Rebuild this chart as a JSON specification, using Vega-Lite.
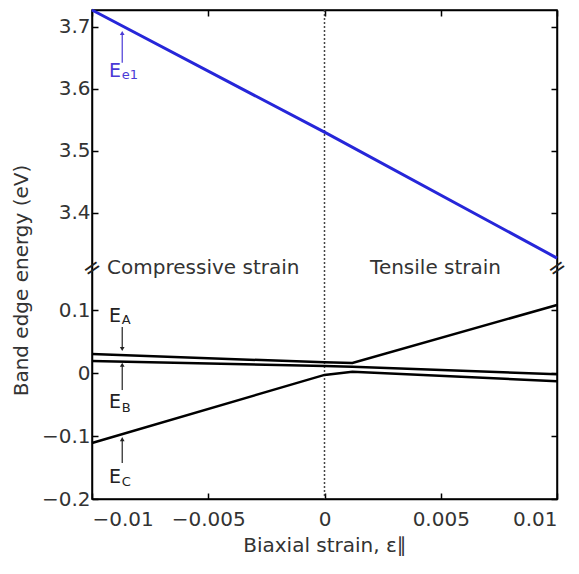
{
  "$schema": "https://vega.github.io/schema/vega-lite/v6.json",
  "autosize": "none",
  "width": 465,
  "height": 489,
  "padding": {"left": 92, "top": 10, "right": 22, "bottom": 75},
  "background": "white",
  "config": {
    "font": "DejaVu Sans",
    "view": {"stroke": "black", "strokeWidth": 1.5},
    "axis": {
      "grid": false,
      "domainColor": "black",
      "domainWidth": 1.5,
      "tickColor": "black",
      "tickWidth": 1.5,
      "tickSize": -6,
      "labelFont": "DejaVu Sans",
      "labelFontSize": 20,
      "labelColor": "#333333",
      "titleFont": "DejaVu Sans",
      "titleFontSize": 20,
      "titleFontWeight": "normal",
      "titleColor": "#333333"
    }
  },
  "datasets": {
    "bands": [
      {"band": "A", "strain": -0.01, "energy": 0.030},
      {"band": "A", "strain": 0.0, "energy": 0.017},
      {"band": "A", "strain": 0.0012, "energy": 0.016},
      {"band": "A", "strain": 0.01, "energy": 0.108},
      {"band": "B", "strain": -0.01, "energy": 0.019},
      {"band": "B", "strain": 0.0, "energy": 0.011},
      {"band": "B", "strain": 0.0012, "energy": 0.010},
      {"band": "B", "strain": 0.01, "energy": -0.002},
      {"band": "C", "strain": -0.01, "energy": -0.111},
      {"band": "C", "strain": 0.0, "energy": -0.003},
      {"band": "C", "strain": 0.0012, "energy": 0.002},
      {"band": "C", "strain": 0.01, "energy": -0.013}
    ],
    "blue": [
      {"band": "e1", "strain": -0.01, "energy": 3.727},
      {"band": "e1", "strain": 0.0, "energy": 3.53},
      {"band": "e1", "strain": 0.01, "energy": 3.327}
    ],
    "letters": [
      {"band": "e1", "strain": -0.00927, "energy": 3.628, "text": "E"},
      {"band": "A", "strain": -0.00927, "energy": 0.090, "text": "E"},
      {"band": "B", "strain": -0.00927, "energy": -0.046, "text": "E"},
      {"band": "C", "strain": -0.00927, "energy": -0.165, "text": "E"}
    ],
    "subs": [
      {"band": "e1", "strain": -0.00872, "energy": 3.622, "text": "e1"},
      {"band": "A", "strain": -0.00872, "energy": 0.084, "text": "A"},
      {"band": "B", "strain": -0.00872, "energy": -0.056, "text": "B"},
      {"band": "C", "strain": -0.00872, "energy": -0.173, "text": "C"}
    ],
    "arrows": [
      {"band": "e1", "strain": -0.0087, "energy": 3.642, "energy2": 3.690, "dir": "up"},
      {"band": "A", "strain": -0.0087, "energy": 0.073, "energy2": 0.038, "dir": "down"},
      {"band": "B", "strain": -0.0087, "energy": -0.027, "energy2": 0.013, "dir": "up"},
      {"band": "C", "strain": -0.0087, "energy": -0.143, "energy2": -0.105, "dir": "up"}
    ],
    "regions": [
      {"strain": -0.00935, "energy": 1, "text": "Compressive strain"},
      {"strain": 0.00196, "energy": 1, "text": "Tensile strain"}
    ],
    "breaks": [
      {"strain": -0.01, "energy": 1},
      {"strain": 0.01, "energy": 1}
    ],
    "zero": [{"strain": 0}]
  },
  "layer": [
    {
      "data": {"name": "zero"},
      "mark": {"type": "rule", "color": "#444444", "strokeWidth": 1.5, "strokeDash": [2, 2]},
      "encoding": {
        "x": {"field": "strain", "type": "quantitative", "scale": {"domain": [-0.01, 0.01], "nice": false, "zero": false}, "axis": null}
      }
    },
    {
      "data": {"name": "bands"},
      "mark": {"type": "line", "color": "black", "strokeWidth": 2.5},
      "encoding": {
        "x": {"field": "strain", "type": "quantitative", "scale": {"domain": [-0.01, 0.01], "nice": false, "zero": false},
          "axis": {"orient": "bottom", "values": [-0.01, -0.005, 0, 0.005, 0.01], "format": "~g", "labelPadding": 16, "title": "Biaxial strain, ε∥", "titlePadding": 6}},
        "y": {"field": "energy", "type": "quantitative", "scale": {"type": "linear", "domain": [-0.2, 0.1667, 3.311, 3.727], "range": [489, 258, 258, 0], "nice": false, "zero": false},
          "axis": {"orient": "left", "values": [-0.2, -0.1, 0, 0.1, 3.4, 3.5, 3.6, 3.7], "format": "~g", "labelPadding": 8, "title": "Band edge energy (eV)", "titlePadding": 10, "titleY": 270}},
        "detail": {"field": "band"}
      }
    },
    {
      "data": {"name": "blue"},
      "mark": {"type": "line", "color": "#2626d9", "strokeWidth": 3},
      "encoding": {
        "x": {"field": "strain", "type": "quantitative", "scale": {"domain": [-0.01, 0.01], "nice": false, "zero": false},
          "axis": {"orient": "top", "values": [-0.01, -0.005, 0, 0.005, 0.01], "labels": false, "title": null}},
        "y": {"field": "energy", "type": "quantitative", "scale": {"type": "linear", "domain": [-0.2, 0.1667, 3.311, 3.727], "range": [489, 258, 258, 0], "nice": false, "zero": false},
          "axis": {"orient": "right", "values": [-0.2, -0.1, 0, 0.1, 3.4, 3.5, 3.6, 3.7], "labels": false, "title": null}}
      }
    },
    {
      "data": {"name": "arrows"},
      "mark": {"type": "rule", "strokeWidth": 1.2},
      "encoding": {
        "x": {"field": "strain", "type": "quantitative", "scale": {"domain": [-0.01, 0.01], "nice": false, "zero": false}, "axis": null},
        "y": {"field": "energy", "type": "quantitative", "scale": {"type": "linear", "domain": [-0.2, 0.1667, 3.311, 3.727], "range": [489, 258, 258, 0], "nice": false, "zero": false}, "axis": null},
        "y2": {"field": "energy2"},
        "color": {"field": "band", "type": "nominal", "scale": {"domain": ["e1", "A", "B", "C"], "range": ["#4a3ad6", "#222222", "#222222", "#222222"]}, "legend": null}
      }
    },
    {
      "data": {"name": "arrows"},
      "mark": {"type": "point", "filled": true, "opacity": 1, "size": 22},
      "encoding": {
        "x": {"field": "strain", "type": "quantitative", "scale": {"domain": [-0.01, 0.01], "nice": false, "zero": false}, "axis": null},
        "y": {"field": "energy2", "type": "quantitative", "scale": {"type": "linear", "domain": [-0.2, 0.1667, 3.311, 3.727], "range": [489, 258, 258, 0], "nice": false, "zero": false}, "axis": null},
        "shape": {"field": "dir", "type": "nominal", "scale": {"domain": ["up", "down"], "range": ["triangle-up", "triangle-down"]}, "legend": null},
        "color": {"field": "band", "type": "nominal", "scale": {"domain": ["e1", "A", "B", "C"], "range": ["#4a3ad6", "#222222", "#222222", "#222222"]}, "legend": null}
      }
    },
    {
      "data": {"name": "letters"},
      "mark": {"type": "text", "align": "left", "baseline": "middle", "fontSize": 19},
      "encoding": {
        "x": {"field": "strain", "type": "quantitative", "scale": {"domain": [-0.01, 0.01], "nice": false, "zero": false}, "axis": null},
        "y": {"field": "energy", "type": "quantitative", "scale": {"type": "linear", "domain": [-0.2, 0.1667, 3.311, 3.727], "range": [489, 258, 258, 0], "nice": false, "zero": false}, "axis": null},
        "text": {"field": "text"},
        "color": {"field": "band", "type": "nominal", "scale": {"domain": ["e1", "A", "B", "C"], "range": ["#4a3ad6", "#222222", "#222222", "#222222"]}, "legend": null}
      }
    },
    {
      "data": {"name": "subs"},
      "mark": {"type": "text", "align": "left", "baseline": "middle", "fontSize": 13},
      "encoding": {
        "x": {"field": "strain", "type": "quantitative", "scale": {"domain": [-0.01, 0.01], "nice": false, "zero": false}, "axis": null},
        "y": {"field": "energy", "type": "quantitative", "scale": {"type": "linear", "domain": [-0.2, 0.1667, 3.311, 3.727], "range": [489, 258, 258, 0], "nice": false, "zero": false}, "axis": null},
        "text": {"field": "text"},
        "color": {"field": "band", "type": "nominal", "scale": {"domain": ["e1", "A", "B", "C"], "range": ["#4a3ad6", "#222222", "#222222", "#222222"]}, "legend": null}
      }
    },
    {
      "data": {"name": "regions"},
      "mark": {"type": "text", "align": "left", "baseline": "middle", "fontSize": 20, "color": "#333333"},
      "encoding": {
        "x": {"field": "strain", "type": "quantitative", "scale": {"domain": [-0.01, 0.01], "nice": false, "zero": false}, "axis": null},
        "y": {"field": "energy", "type": "quantitative", "scale": {"type": "linear", "domain": [-0.2, 0.1667, 3.311, 3.727], "range": [489, 258, 258, 0], "nice": false, "zero": false}, "axis": null},
        "text": {"field": "text"}
      }
    },
    {
      "data": {"name": "breaks"},
      "mark": {"type": "text", "align": "center", "baseline": "middle", "fontSize": 22, "angle": -35, "color": "#222222", "text": "="},
      "encoding": {
        "x": {"field": "strain", "type": "quantitative", "scale": {"domain": [-0.01, 0.01], "nice": false, "zero": false}, "axis": null},
        "y": {"field": "energy", "type": "quantitative", "scale": {"type": "linear", "domain": [-0.2, 0.1667, 3.311, 3.727], "range": [489, 258, 258, 0], "nice": false, "zero": false}, "axis": null}
      }
    }
  ],
  "resolve": {"axis": {"x": "independent", "y": "independent"}}
}
